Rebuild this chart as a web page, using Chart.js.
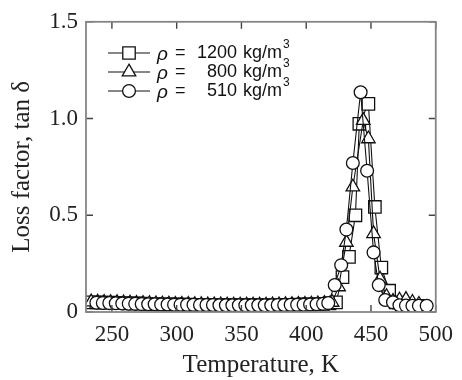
<!DOCTYPE html>
<html>
<head>
<meta charset="utf-8">
<script src="https://cdn.jsdelivr.net/npm/chart.js@4.4.0/dist/chart.umd.min.js"></script>
<style>
  html, body { margin: 0; padding: 0; background: #fff; }
  #wrap { width: 462px; height: 380px; }
</style>
</head>
<body>
<div id="wrap"><canvas id="chart"></canvas></div>
<script>
// rho = 1200 kg/m3 (squares)
const temp1200 = [233, 238, 243, 248, 253, 258, 263, 268, 273, 278, 283, 288, 293, 298, 303, 308, 313, 318, 323, 328,
  333, 338, 343, 348, 353, 358, 363, 368, 373, 378, 383, 388, 393, 398, 403, 408, 413, 418,
  423, 428, 433, 438, 441, 448, 453, 458, 464, 469, 474, 479, 484, 489];
const loss1200 = [0.05, 0.05, 0.049, 0.048, 0.047, 0.046, 0.045, 0.044, 0.043, 0.042, 0.041, 0.04, 0.04, 0.039, 0.038, 0.038, 0.037, 0.037, 0.036, 0.036,
  0.036, 0.035, 0.035, 0.035, 0.035, 0.035, 0.035, 0.035, 0.036, 0.036, 0.037, 0.037, 0.038, 0.039, 0.04, 0.041, 0.042, 0.044,
  0.05, 0.18, 0.285, 0.5, 0.973, 1.076, 0.543, 0.23, 0.11, 0.05, 0.035, 0.033, 0.032, 0.032];

// rho = 800 kg/m3 (triangles)
const temp800 = [234, 239, 244, 249, 254, 259, 264, 269, 274, 279, 284, 289, 294, 299, 304, 309, 314, 319, 324, 329,
  334, 339, 344, 349, 354, 359, 364, 369, 374, 379, 384, 389, 394, 399, 404, 409, 414, 420,
  425, 431, 436, 444, 448, 452, 457, 462, 467, 472, 477, 482, 487];
const loss800 = [0.052, 0.051, 0.05, 0.049, 0.048, 0.047, 0.046, 0.045, 0.044, 0.043, 0.042, 0.041, 0.041, 0.04, 0.039, 0.039, 0.038, 0.038, 0.037, 0.037,
  0.037, 0.036, 0.036, 0.036, 0.036, 0.036, 0.036, 0.036, 0.037, 0.037, 0.038, 0.038, 0.039, 0.04, 0.041, 0.042, 0.044, 0.05,
  0.13, 0.36, 0.646, 0.99, 0.895, 0.405, 0.17, 0.08, 0.055, 0.062, 0.065, 0.05, 0.04];

// rho = 510 kg/m3 (circles)
const temp510 = [238, 243, 248, 253, 258, 263, 268, 273, 278, 283, 288, 293, 298, 303, 308, 313, 318, 323, 328, 333,
  338, 343, 348, 353, 358, 363, 368, 373, 378, 383, 388, 393, 398, 403, 408, 413,
  417, 422, 427, 431, 436, 442, 447, 452, 456, 461, 467, 472, 477, 482, 487, 493];
const loss510 = [0.048, 0.047, 0.046, 0.045, 0.044, 0.043, 0.042, 0.041, 0.04, 0.04, 0.039, 0.039, 0.038, 0.038, 0.037, 0.037, 0.036, 0.036, 0.036, 0.035,
  0.035, 0.035, 0.035, 0.035, 0.035, 0.035, 0.035, 0.035, 0.036, 0.036, 0.037, 0.037, 0.038, 0.039, 0.04, 0.042,
  0.046, 0.139, 0.242, 0.426, 0.77, 1.136, 0.73, 0.308, 0.139, 0.062, 0.05, 0.035, 0.033, 0.032, 0.032, 0.032];

const xTicks = [250, 300, 350, 400, 450, 500];
const yTicks = [0, 0.5, 1.0, 1.5];
const yTickLabels = ["0", "0.5", "1.0", "1.5"];
const seriesNumbers = ["1200", "800", "510"];
const seriesStyles = ["rect", "triangle", "circle"];

const serif = "'Liberation Serif', 'Times New Roman', serif";
const sans = "'Liberation Sans', Arial, sans-serif";

function toPoints(xs, ys) {
  return xs.map((x, i) => ({ x: x, y: ys[i] }));
}

function makeSet(label, xs, ys, style, radius, order) {
  return {
    label: label,
    data: toPoints(xs, ys),
    borderColor: "#111",
    borderWidth: 1.1,
    pointStyle: style,
    pointRadius: radius,
    pointBorderWidth: 1.3,
    pointBorderColor: "#111",
    pointBackgroundColor: "#fff",
    showLine: true,
    fill: false,
    order: order,
  };
}

const radii = [8.8, 7.8, 6.4];

// frame, inward ticks and legend
const framePlugin = {
  id: "frame",
  afterDatasetsDraw(chart) {
    const ctx = chart.ctx;
    const a = chart.chartArea;
    const xs = chart.scales.x;
    const ys = chart.scales.y;
    ctx.save();
    ctx.strokeStyle = "#444";
    ctx.lineWidth = 1.4;
    ctx.beginPath();
    xTicks.forEach((v) => {
      const px = xs.getPixelForValue(v);
      ctx.moveTo(px, a.bottom);
      ctx.lineTo(px, a.bottom - 7);
      ctx.moveTo(px, a.top);
      ctx.lineTo(px, a.top + 7);
    });
    yTicks.forEach((v) => {
      const py = ys.getPixelForValue(v);
      ctx.moveTo(a.left, py);
      ctx.lineTo(a.left + 7, py);
      ctx.moveTo(a.right, py);
      ctx.lineTo(a.right - 7, py);
    });
    ctx.stroke();
    ctx.strokeStyle = "#858585";
    ctx.lineWidth = 1.8;
    ctx.strokeRect(a.left, a.top, a.right - a.left, a.bottom - a.top);
    ctx.restore();
  },
  afterDraw(chart) {
    const ctx = chart.ctx;
    ctx.save();
    const rows = [53, 72, 91];
    chart.data.datasets.forEach((ds, i) => {
      const y = rows[i];
      ctx.strokeStyle = "#111";
      ctx.lineWidth = 1.1;
      ctx.beginPath();
      ctx.moveTo(108, y);
      ctx.lineTo(150, y);
      ctx.stroke();
      ctx.fillStyle = "#fff";
      ctx.strokeStyle = "#111";
      ctx.lineWidth = 1.3;
      Chart.helpers.drawPoint(ctx, { pointStyle: seriesStyles[i], radius: radii[i], borderWidth: 1.3, rotation: 0 }, 129, y);
      ctx.fillStyle = "#111";
      ctx.textBaseline = "middle";
      ctx.font = "italic 19px " + sans;
      ctx.textAlign = "left";
      ctx.fillText("\u03c1", 157, y + 2);
      ctx.font = "18px " + sans;
      ctx.fillText("=", 175, y);
      ctx.textAlign = "right";
      ctx.fillText(seriesNumbers[i], 237, y);
      ctx.textAlign = "left";
      ctx.fillText("kg/m", 243, y);
      const w = ctx.measureText("kg/m").width;
      ctx.font = "12px " + sans;
      ctx.fillText("3", 243 + w + 1, y - 8);
    });
    ctx.restore();
  },
};

const data = {
  datasets: [
    makeSet("1200", temp1200, loss1200, "rect", radii[0], 3),
    makeSet("800", temp800, loss800, "triangle", radii[1], 2),
    makeSet("510", temp510, loss510, "circle", radii[2], 1),
  ],
};

const config = {
  type: "scatter",
  data: data,
  options: {
    responsive: true,
    maintainAspectRatio: false,
    animation: false,
    devicePixelRatio: 1,
    layout: { padding: { top: 21, right: 23, left: 0, bottom: 0 } },
    plugins: { legend: { display: false }, tooltip: { enabled: false } },
    elements: { line: { tension: 0 } },
    scales: {
      x: {
        type: "linear",
        min: 230,
        max: 500,
        afterBuildTicks: (s) => { s.ticks = xTicks.map((v) => ({ value: v })); },
        afterFit: (s) => { s.height = 68; },
        grid: { display: false, drawTicks: false },
        border: { display: false },
        ticks: { color: "#222", padding: 9, maxRotation: 0, font: { family: serif, size: 23 } },
        title: { display: true, text: "Temperature, K", color: "#222", padding: { top: 0, bottom: 0 }, font: { family: serif, size: 25 } },
      },
      y: {
        type: "linear",
        min: 0,
        max: 1.5,
        afterBuildTicks: (s) => { s.ticks = yTicks.map((v) => ({ value: v })); },
        afterFit: (s) => { s.width = 86; },
        grid: { display: false, drawTicks: false },
        border: { display: false },
        ticks: { color: "#222", padding: 8, font: { family: serif, size: 23 },
          callback: (v) => yTickLabels[yTicks.indexOf(v)] },
        title: { display: true, text: "Loss factor, tan \u03b4", color: "#222", padding: { top: 7, bottom: 0 }, font: { family: serif, size: 25 } },
      },
    },
  },
  plugins: [framePlugin],
};

const myChart = new Chart(document.getElementById("chart").getContext("2d"), config);
</script>
</body>
</html>
